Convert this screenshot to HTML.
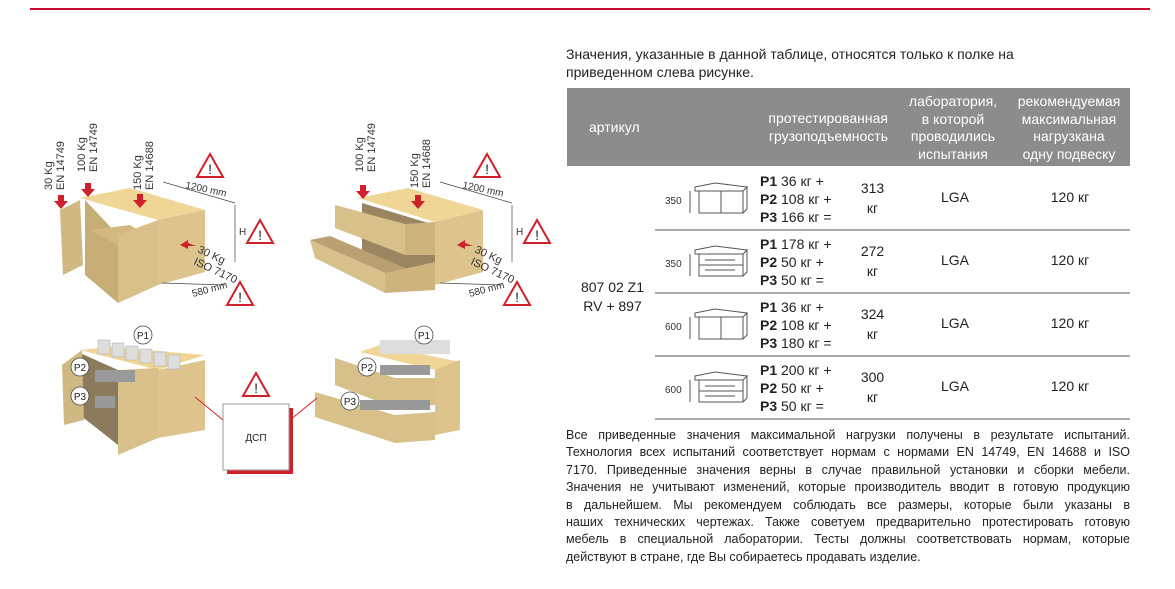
<!DOCTYPE html>
<html><head><meta charset="utf-8"><style>
body{margin:0;width:1175px;height:589px;background:#fff;position:relative;overflow:hidden;font-family:"Liberation Sans",Arial,sans-serif;color:#222}
.a{position:absolute}
.hd{position:absolute;left:567px;top:88px;width:563px;height:78px;background:#8c8c8c;color:#fff;font-size:14px;line-height:17.5px}
.c{text-align:center}
.row{position:absolute;left:655px;width:475px;height:63px;font-size:14px}
.sep{position:absolute;left:655px;width:475px;height:2px;background:#aaa}
.p{position:absolute;left:105px;top:5px;line-height:18px}
.tot{position:absolute;left:195px;width:45px;text-align:center;top:11px;line-height:20px}
.lga{position:absolute;left:270px;width:60px;text-align:center;top:22px}
.rec{position:absolute;left:370px;width:90px;text-align:center;top:22px}
.foot{position:absolute;left:566px;top:427px;width:564px;font-size:12.5px;line-height:17.4px}
.foot div{text-align:justify;text-align-last:justify;white-space:nowrap}
.foot div.l{text-align-last:left}
</style></head><body>
<div class="a" style="left:30px;top:8px;width:1120px;height:2px;background:#c8102e"></div>
<div class="a" style="left:566px;top:45px;font-size:14px;line-height:18px">Значения, указанные в данной таблице, относятся только к полке на<br>приведенном слева рисунке.</div>
<div class="hd">
<div class="a" style="left:22px;top:31px">артикул</div>
<div class="a" style="left:180px;width:141px;text-align:right;top:22px">протестированная<br>грузоподъемность</div>
<div class="a c" style="left:330px;width:112px;top:5px">лаборатория,<br>в которой<br>проводились<br>испытания</div>
<div class="a c" style="left:443px;width:118px;top:5px">рекомендуемая<br>максимальная<br>нагрузкана<br>одну подвеску</div>
</div>
<div class="a c" style="left:570px;width:85px;top:278px;font-size:14px;line-height:19px">807 02 Z1<br>RV + 897</div>

<div class="row" style="top:167px">
<svg class="a" style="left:10px;top:10px" width="90" height="40"><text x="0" y="27" font-size="10" fill="#333" font-family="Liberation Sans">350</text><path d="M25 14 v22 M30 10 l20 -4 l32 4 l-4 4 l-48 0 z M34 14 v22 h44 v-22 M56 14 v22 M78 14 l4 -4 v22 l-4 4" fill="none" stroke="#555" stroke-width="1"/></svg>
<div class="p"><b>P1</b> 36 кг +<br><b>P2</b> 108 кг +<br><b>P3</b> 166 кг =</div>
<div class="tot">313<br>кг</div><div class="lga">LGA</div><div class="rec">120 кг</div></div>
<div class="sep" style="top:229px"></div>
<div class="row" style="top:230px">
<svg class="a" style="left:10px;top:10px" width="90" height="40"><text x="0" y="27" font-size="10" fill="#333" font-family="Liberation Sans">350</text><path d="M25 14 v22 M30 10 l20 -4 l32 4 l-4 4 l-48 0 z M34 14 v22 h44 v-22 M34 25 h44 M40 20 h30 M40 30 h30 M78 14 l4 -4 v22 l-4 4" fill="none" stroke="#555" stroke-width="1"/></svg>
<div class="p"><b>P1</b> 178 кг +<br><b>P2</b> 50 кг +<br><b>P3</b> 50 кг =</div>
<div class="tot">272<br>кг</div><div class="lga">LGA</div><div class="rec">120 кг</div></div>
<div class="sep" style="top:292px"></div>
<div class="row" style="top:293px">
<svg class="a" style="left:10px;top:10px" width="90" height="40"><text x="0" y="27" font-size="10" fill="#333" font-family="Liberation Sans">600</text><path d="M25 14 v22 M30 10 l20 -4 l32 4 l-4 4 l-48 0 z M34 14 v22 h44 v-22 M56 14 v22 M78 14 l4 -4 v22 l-4 4" fill="none" stroke="#555" stroke-width="1"/></svg>
<div class="p"><b>P1</b> 36 кг +<br><b>P2</b> 108 кг +<br><b>P3</b> 180 кг =</div>
<div class="tot">324<br>кг</div><div class="lga">LGA</div><div class="rec">120 кг</div></div>
<div class="sep" style="top:355px"></div>
<div class="row" style="top:356px">
<svg class="a" style="left:10px;top:10px" width="90" height="40"><text x="0" y="27" font-size="10" fill="#333" font-family="Liberation Sans">600</text><path d="M25 14 v22 M30 10 l20 -4 l32 4 l-4 4 l-48 0 z M34 14 v22 h44 v-22 M34 25 h44 M40 20 h30 M40 30 h30 M78 14 l4 -4 v22 l-4 4" fill="none" stroke="#555" stroke-width="1"/></svg>
<div class="p"><b>P1</b> 200 кг +<br><b>P2</b> 50 кг +<br><b>P3</b> 50 кг =</div>
<div class="tot">300<br>кг</div><div class="lga">LGA</div><div class="rec">120 кг</div></div>
<div class="sep" style="top:418px"></div>

<div class="foot">
<div>Все  приведенные значения максимальной нагрузки получены в результате испытаний.</div>
<div>Технология всех испытаний соответствует нормам  с нормами EN 14749, EN 14688 и ISO</div>
<div>7170. Приведенные значения верны в случае правильной установки и сборки мебели.</div>
<div>Значения не учитывают изменений, которые производитель вводит в готовую продукцию</div>
<div>в дальнейшем. Мы рекомендуем соблюдать все размеры, которые были указаны в</div>
<div>наших технических чертежах. Также советуем предварительно протестировать готовую</div>
<div>мебель в специальной лаборатории. Тесты должны соответствовать нормам, которые</div>
<div class="l">действуют в стране, где Вы собираетесь продавать изделие.</div>
</div>

<svg class="a" style="left:0;top:0" width="560" height="589" font-family="Liberation Sans">
<defs>
<g id="warn"><path d="M0 -12 L13 11 H-13 Z" fill="#fff" stroke="#d0202a" stroke-width="2"/><text x="0" y="8" font-size="14" text-anchor="middle" fill="#222">!</text></g>
<g id="arr"><path d="M-3 -8 h6 v6 h4 l-7 8 l-7 -8 h4 z" fill="#d0202a"/></g>
</defs>
<polygon points="80,198 130,188 205,210 158,220" fill="#efd596"/>
<polygon points="158,220 205,210 205,272 158,285" fill="#dcc48c"/>
<polygon points="85,200 118,235 118,303 85,275" fill="#c6ad76"/>
<polygon points="90,230 130,225 150,238 118,245" fill="#d2b982"/>
<polygon points="118,235 158,220 158,285 118,303" fill="#d8c08a"/>
<polygon points="60,210 80,200 83,265 63,275" fill="#d0b882"/>
<g fill="#333" font-size="11"><text transform="translate(52,190) rotate(-90)">30 Kg</text><text transform="translate(64,190) rotate(-90)">EN 14749</text>
<text transform="translate(85,172) rotate(-90)">100 Kg</text><text transform="translate(97,172) rotate(-90)">EN 14749</text>
<text transform="translate(141,190) rotate(-90)">150 Kg</text><text transform="translate(153,190) rotate(-90)">EN 14688</text>
<text transform="translate(185,188) rotate(12)" font-size="10">1200 mm</text>
<text x="239" y="235" font-size="10">H</text>
<text transform="translate(197,252) rotate(25)" font-size="11">30 Kg</text><text transform="translate(193,264) rotate(25)" font-size="11">ISO 7170</text>
<text transform="translate(193,297) rotate(-15)" font-size="10">580 mm</text></g>
<path d="M163,182 L235,203 M235,205 V262 M162,283 L225,285" stroke="#444" stroke-width="0.7" fill="none"/>
<use href="#arr" x="61" y="203"/><use href="#arr" x="88" y="191"/><use href="#arr" x="140" y="202"/>
<path d="M196,246 l-8 -3 v-3 l-8 5 l8 4 v-3 z" fill="#d0202a"/>
<use href="#warn" x="210" y="166"/><use href="#warn" x="260" y="232"/><use href="#warn" x="240" y="294"/>
<polygon points="358,198 408,188 483,210 435,222" fill="#efd596"/>
<polygon points="435,222 483,210 483,272 435,285" fill="#dcc48c"/>
<polygon points="362,203 435,225 435,285 362,260" fill="#9a8560"/>
<polygon points="335,205 405,224 405,255 335,228" fill="#d8c08a"/>
<polygon points="405,224 435,222 435,255 405,255" fill="#cdb47c"/>
<polygon points="310,240 330,236 410,270 385,273" fill="#b9a070"/>
<polygon points="310,240 385,273 385,293 315,258" fill="#d8c08a"/>
<polygon points="385,273 435,262 435,290 385,293" fill="#cdb47c"/>
<g fill="#333" font-size="11"><text transform="translate(363,172) rotate(-90)">100 Kg</text><text transform="translate(375,172) rotate(-90)">EN 14749</text>
<text transform="translate(418,188) rotate(-90)">150 Kg</text><text transform="translate(430,188) rotate(-90)">EN 14688</text>
<text transform="translate(462,188) rotate(12)" font-size="10">1200 mm</text>
<text x="516" y="235" font-size="10">H</text>
<text transform="translate(474,252) rotate(25)">30 Kg</text><text transform="translate(470,264) rotate(25)">ISO 7170</text>
<text transform="translate(470,297) rotate(-15)" font-size="10">580 mm</text></g>
<path d="M440,182 L512,203 M512,205 V262 M440,283 L502,285" stroke="#444" stroke-width="0.7" fill="none"/>
<use href="#arr" x="363" y="193"/><use href="#arr" x="418" y="203"/>
<path d="M473,246 l-8 -3 v-3 l-8 5 l8 4 v-3 z" fill="#d0202a"/>
<use href="#warn" x="487" y="166"/><use href="#warn" x="537" y="232"/><use href="#warn" x="517" y="294"/>
<polygon points="80,350 110,347 205,355 158,370" fill="#efd596"/>
<polygon points="158,370 205,360 205,430 158,438" fill="#dcc48c"/>
<polygon points="80,353 118,370 118,445 80,415" fill="#8c7a5c"/>
<polygon points="118,370 158,368 158,438 118,455" fill="#d8c08a"/>
<polygon points="62,365 82,350 84,420 64,425" fill="#d0b882"/>
<g fill="#ddd" stroke="#aaa" stroke-width="0.5"><rect x="98" y="340" width="12" height="14"/><rect x="112" y="343" width="12" height="14"/><rect x="126" y="346" width="12" height="14"/><rect x="140" y="349" width="12" height="14"/><rect x="154" y="352" width="12" height="14"/><rect x="168" y="355" width="12" height="14"/></g>
<g fill="#999"><rect x="95" y="370" width="40" height="12"/><rect x="95" y="396" width="20" height="12"/></g>
<g fill="#fff" stroke="#444" stroke-width="0.8" font-size="10"><circle cx="143" cy="335" r="9"/><circle cx="80" cy="367" r="9"/><circle cx="80" cy="396" r="9"/></g>
<g font-size="10" fill="#222" text-anchor="middle"><text x="143" y="339">P1</text><text x="80" y="371">P2</text><text x="80" y="400">P3</text></g>
<polygon points="360,352 380,345 460,362 435,370" fill="#efd596"/>
<polygon points="435,370 460,360 460,430 435,435" fill="#dcc48c"/>
<polygon points="335,358 395,378 435,378 435,405 395,408 335,385" fill="#d8c08a"/>
<polygon points="315,392 395,415 435,412 435,440 395,443 315,417" fill="#d8c08a"/>
<g fill="#ddd"><rect x="380" y="340" width="70" height="14"/><rect x="380" y="365" width="50" height="10" fill="#999"/><rect x="360" y="400" width="70" height="10" fill="#999"/></g>
<g fill="#fff" stroke="#444" stroke-width="0.8"><circle cx="424" cy="335" r="9"/><circle cx="367" cy="367" r="9"/><circle cx="350" cy="401" r="9"/></g>
<g font-size="10" fill="#222" text-anchor="middle"><text x="424" y="339">P1</text><text x="367" y="371">P2</text><text x="350" y="405">P3</text></g>
<path d="M195,397 L223,420 M290,420 L317,398" stroke="#d0202a" stroke-width="1"/>
<rect x="227" y="408" width="66" height="66" fill="#d0202a"/>
<rect x="223" y="404" width="66" height="66" fill="#fff" stroke="#999" stroke-width="1"/>
<text x="256" y="441" font-size="10" text-anchor="middle" fill="#222">ДСП</text>
<use href="#warn" x="256" y="385"/>
</svg>
</body></html>
